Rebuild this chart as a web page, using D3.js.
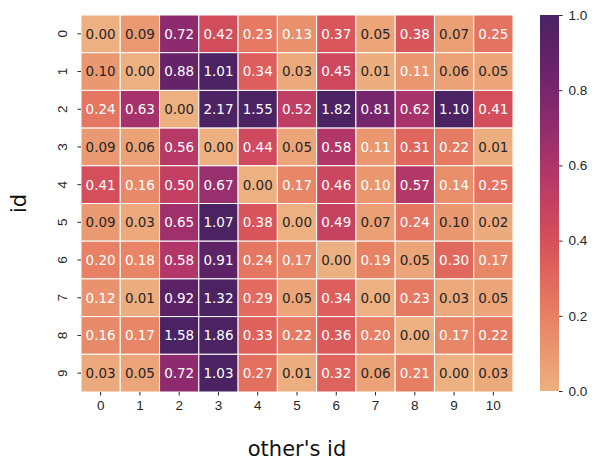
<!DOCTYPE html>
<meta charset="utf-8">
<style>
body { margin: 0; background: #fff; }
svg { font-family: "DejaVu Sans", sans-serif; }
.axis path { display: none; }
.axis line { stroke: #262626; }
.axis text { fill: #262626; font-size: 13.5px; }
.cell text { font-size: 13.5px; }
.label { font-size: 21px; fill: #111; }
</style>
<body>
<script src="https://cdn.jsdelivr.net/npm/d3@7"></script>
<script>
// row ids, column ids and the matrix of values
var rowIds = ["0", "1", "2", "3", "4", "5", "6", "7", "8", "9"];
var colIds = ["0", "1", "2", "3", "4", "5", "6", "7", "8", "9", "10"];
var values = [
  [0.00, 0.09, 0.72, 0.42, 0.23, 0.13, 0.37, 0.05, 0.38, 0.07, 0.25],
  [0.098, 0.00, 0.88, 1.01, 0.34, 0.03, 0.45, 0.01, 0.11, 0.06, 0.05],
  [0.24, 0.63, 0.00, 2.17, 1.55, 0.52, 1.82, 0.81, 0.62, 1.10, 0.41],
  [0.09, 0.06, 0.56, 0.00, 0.44, 0.05, 0.58, 0.11, 0.31, 0.22, 0.01],
  [0.41, 0.16, 0.50, 0.67, 0.00, 0.17, 0.46, 0.104, 0.57, 0.14, 0.25],
  [0.09, 0.03, 0.65, 1.07, 0.38, 0.00, 0.49, 0.07, 0.24, 0.098, 0.02],
  [0.20, 0.18, 0.58, 0.91, 0.24, 0.17, 0.00, 0.19, 0.05, 0.30, 0.17],
  [0.12, 0.01, 0.92, 1.32, 0.29, 0.05, 0.34, 0.00, 0.23, 0.03, 0.05],
  [0.16, 0.17, 1.58, 1.86, 0.33, 0.22, 0.36, 0.20, 0.00, 0.17, 0.22],
  [0.03, 0.05, 0.72, 1.03, 0.27, 0.01, 0.32, 0.06, 0.21, 0.00, 0.03]
];
var colorbarTicks = [0, 0.2, 0.4, 0.6, 0.8, 1.0];
var xLabel = "other's id";
var yLabel = "id";

// approximation of seaborn's "flare" colormap
var flare = ["#edb081", "#ea9870", "#e78064", "#e1685d", "#d6505b", "#c44062",
             "#ad3569", "#922c6e", "#78266d", "#602267", "#4b2362"];
var color = d3.scaleLinear()
    .domain(d3.range(flare.length).map(function(i) { return i / (flare.length - 1); }))
    .range(flare)
    .clamp(true);

var width = 594, height = 462;
var hm = {left: 81, top: 15, right: 513, bottom: 392};
var cb = {left: 540, right: 559};

var svg = d3.select("body").append("svg")
    .attr("width", width)
    .attr("height", height);

var x = d3.scaleBand().domain(colIds).range([hm.left, hm.right]);
var y = d3.scaleBand().domain(rowIds).range([hm.top, hm.bottom]);

// same rule seaborn uses to pick annotation colour
function lum(c) {
  var rgb = d3.rgb(c);
  var f = function(v) { v /= 255; return v <= 0.03928 ? v / 12.92 : Math.pow((v + 0.055) / 1.055, 2.4); };
  return 0.2126 * f(rgb.r) + 0.7152 * f(rgb.g) + 0.0722 * f(rgb.b);
}

var cells = [];
values.forEach(function(row, i) {
  row.forEach(function(v, j) { cells.push({r: rowIds[i], c: colIds[j], v: v}); });
});

var cell = svg.selectAll(".cell")
    .data(cells)
  .enter().append("g")
    .attr("class", "cell");

cell.append("rect")
    .attr("x", function(d) { return x(d.c); })
    .attr("y", function(d) { return y(d.r); })
    .attr("width", x.bandwidth())
    .attr("height", y.bandwidth())
    .attr("fill", function(d) { return color(d.v); })
    .attr("stroke", "#fff")
    .attr("stroke-width", 1);

cell.append("text")
    .attr("x", function(d) { return x(d.c) + x.bandwidth() / 2; })
    .attr("y", function(d) { return y(d.r) + y.bandwidth() / 2; })
    .attr("dy", "0.36em")
    .attr("text-anchor", "middle")
    .attr("fill", function(d) { return lum(color(d.v)) > 0.408 ? "#262626" : "#ffffff"; })
    .text(function(d) { return d3.format(".2f")(d.v); });

// axes
svg.append("g")
    .attr("class", "axis")
    .attr("transform", "translate(0," + hm.bottom + ")")
    .call(d3.axisBottom(x).tickSize(3.5).tickPadding(4))
  .selectAll("text")
    .attr("dy", "0.75em");

var yAxis = svg.append("g")
    .attr("class", "axis")
    .attr("transform", "translate(" + hm.left + ",0)")
    .call(d3.axisLeft(y).tickSize(3.5));

yAxis.selectAll("text")
    .attr("x", null).attr("dy", null)
    .attr("text-anchor", "middle")
    .attr("transform", function(d) { return "translate(-14,0) rotate(-90)"; });

// axis titles
svg.append("text")
    .attr("class", "label")
    .attr("x", (hm.left + hm.right) / 2)
    .attr("y", 456)
    .attr("text-anchor", "middle")
    .text(xLabel);

svg.append("text")
    .attr("class", "label")
    .attr("transform", "translate(26," + (hm.top + hm.bottom) / 2 + ") rotate(-90)")
    .attr("text-anchor", "middle")
    .text(yLabel);

// colorbar
var cbScale = d3.scaleLinear().domain([0, 1]).range([hm.bottom - 1, hm.top]);

var grad = svg.append("defs").append("linearGradient")
    .attr("id", "cbgrad")
    .attr("x1", 0).attr("y1", 1).attr("x2", 0).attr("y2", 0);

grad.selectAll("stop")
    .data(d3.range(0, 1.0001, 0.02))
  .enter().append("stop")
    .attr("offset", function(d) { return d; })
    .attr("stop-color", function(d) { return color(d); });

svg.append("rect")
    .attr("x", cb.left)
    .attr("y", cbScale(1))
    .attr("width", cb.right - cb.left)
    .attr("height", cbScale(0) - cbScale(1))
    .attr("fill", "url(#cbgrad)");

svg.append("g")
    .attr("class", "axis")
    .attr("transform", "translate(" + cb.right + ",0)")
    .call(d3.axisRight(cbScale).tickValues(colorbarTicks).tickFormat(d3.format(".1f")).tickSize(3.5).tickPadding(6));
</script>
</body>
